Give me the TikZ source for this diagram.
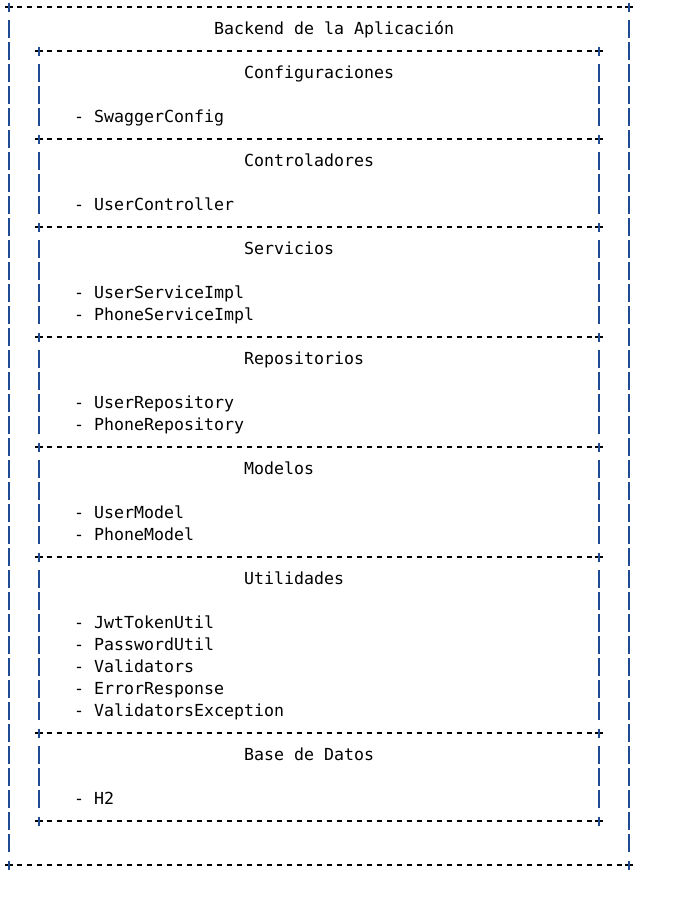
\documentclass[tikz,border=0pt]{standalone}
\usepackage{fontspec}
\newfontfamily\codefont{DejaVu Sans Mono}
\usepackage{tikz}
\definecolor{pipeblue}{RGB}{30,75,145}
\tikzset{
  txt/.style={anchor=base west, inner sep=0pt, font=\codefont\fontsize{16.6}{20}\selectfont},
  dashrule/.style={line width=1.2pt, dash pattern=on 5pt off 5pt},
  crossbar/.style={line width=1.2pt},
  pipe/.style={pipeblue, line width=1.3pt}
}
% row, left column, right column
\newcommand{\borderline}[3]{%
  \draw[dashrule] ({16.5+10*#2},{7+22*#1}) -- ({1.5+10*#3},{7+22*#1});
  \foreach \c in {#2,#3} {
    \draw[crossbar] ({5+10*\c},{7+22*#1}) -- ({13+10*\c},{7+22*#1});
    \draw[pipe] ({9+10*\c},{2.5+22*#1}) -- ({9+10*\c},{11.5+22*#1});
  }}
% column, row
\newcommand{\pipeat}[2]{\draw[pipe] ({9+10*#1},{-2+22*#2}) -- ({9+10*#1},{16+22*#2});}
\begin{document}
\begin{tikzpicture}[x=1pt,y=-1pt]
\useasboundingbox (0,0) rectangle (683,911);

\borderline{0}{0}{62}
\borderline{39}{0}{62}
\foreach \r in {1,...,38} {\pipeat{0}{\r} \pipeat{62}{\r}}

\foreach \r in {2,6,10,15,20,25,33,37} {\borderline{\r}{3}{59}}
\foreach \r in {3,4,5,7,8,9,11,12,13,14,16,17,18,19,21,22,23,24,26,27,28,29,30,31,32,34,35,36} {\pipeat{3}{\r} \pipeat{59}{\r}}

\node[txt] (title) at (214,34) {Backend de la Aplicación};

\node[txt] (cfg)  at (244,78)  {Configuraciones};
\node[txt] (cfgA) at (74,122)  {- SwaggerConfig};

\node[txt] (ctrl)  at (244,166) {Controladores};
\node[txt] (ctrlA) at (74,210)  {- UserController};

\node[txt] (srv)  at (244,254) {Servicios};
\node[txt] (srvA) at (74,298)  {- UserServiceImpl};
\node[txt] (srvB) at (74,320)  {- PhoneServiceImpl};

\node[txt] (repo)  at (244,364) {Repositorios};
\node[txt] (repoA) at (74,408)  {- UserRepository};
\node[txt] (repoB) at (74,430)  {- PhoneRepository};

\node[txt] (mdl)  at (244,474) {Modelos};
\node[txt] (mdlA) at (74,518)  {- UserModel};
\node[txt] (mdlB) at (74,540)  {- PhoneModel};

\node[txt] (util)  at (244,584) {Utilidades};
\node[txt] (utilA) at (74,628)  {- JwtTokenUtil};
\node[txt] (utilB) at (74,650)  {- PasswordUtil};
\node[txt] (utilC) at (74,672)  {- Validators};
\node[txt] (utilD) at (74,694)  {- ErrorResponse};
\node[txt] (utilE) at (74,716)  {- ValidatorsException};

\node[txt] (db)  at (244,760) {Base de Datos};
\node[txt] (dbA) at (74,804)  {- H2};
\end{tikzpicture}
\end{document}
